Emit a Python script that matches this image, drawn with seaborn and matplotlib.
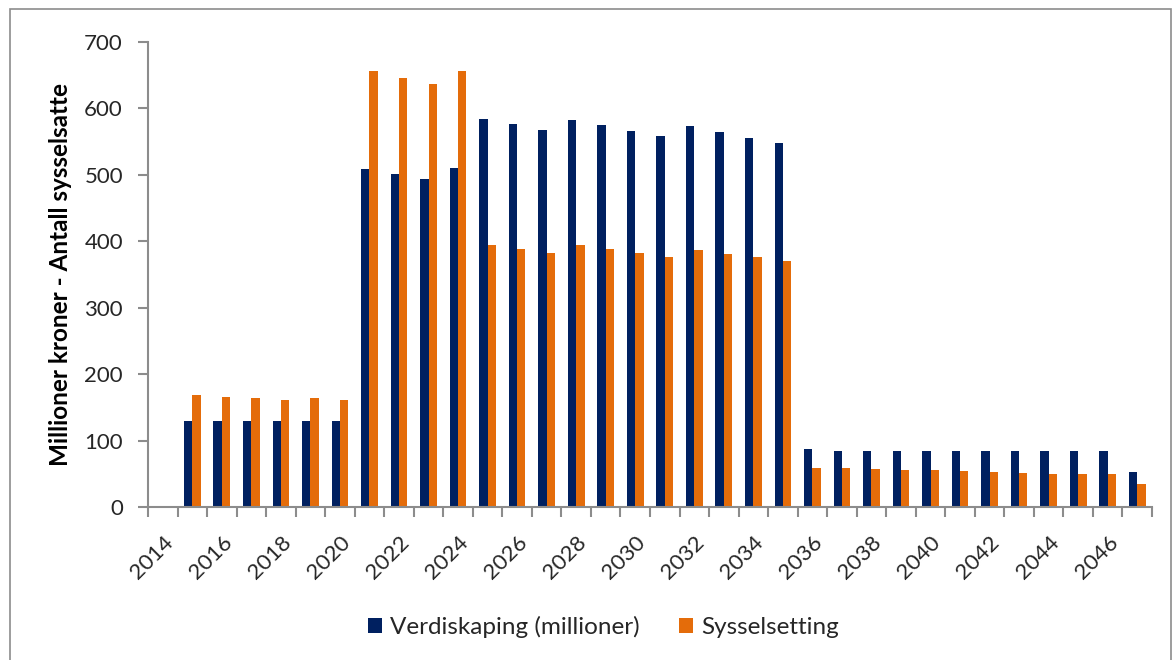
import numpy as np
import pandas as pd
import matplotlib
matplotlib.use("Agg")
import matplotlib.pyplot as plt
from matplotlib.patches import Rectangle
import seaborn as sns

years = list(range(2014, 2048))
verdiskaping = [2, 130, 130, 130, 130, 130, 130,
                509, 501, 494, 510,
                584, 576, 568, 583, 575, 566, 558, 573, 565, 556, 548,
                87, 85, 85, 85, 85, 85, 85, 85, 85, 85, 85,
                52]
sysselsetting = [2, 169, 166, 164, 161, 164, 161,
                 656, 646, 637, 656,
                 394, 388, 383, 394, 388, 382, 377, 387, 381, 376, 370,
                 58, 58, 57, 56, 55, 54, 53, 51, 50, 50, 49,
                 35]
series_names = ["Verdiskaping (millioner)", "Sysselsetting"]
colors = ["#002060", "#E46C0A"]
y_label = "Millioner kroner - Antall sysselsatte"

df = pd.DataFrame({
    "year": [str(y) for y in years] * 2,
    "value": verdiskaping + sysselsetting,
    "series": [series_names[0]] * len(years) + [series_names[1]] * len(years),
})

sns.set_theme(style="white")
plt.rcParams["font.family"] = ["Lato", "DejaVu Sans"]

fig = plt.figure(figsize=(11.74, 6.6), dpi=100)
ax = fig.add_axes([148 / 1174, 1 - 507 / 660, (1152 - 148) / 1174, (507 - 42) / 660])

sns.barplot(data=df, x="year", y="value", hue="series", palette=colors,
            width=0.565, saturation=1, ax=ax, linewidth=0)

n = len(years)
ax.set_xlim(-0.5, n - 0.5)
ax.set_ylim(0, 700)
ax.set_yticks(np.arange(0, 701, 100))
ax.tick_params(axis="y", labelsize=16, colors="#8c8c8c", length=7, width=1.5,
               pad=11, labelcolor="#262626", left=True)

ax.set_xticks(np.arange(0, n, 2))
ax.set_xticklabels([str(y) for y in years[::2]], rotation=45, ha="right",
                   rotation_mode="anchor", fontsize=16, color="#262626")
ax.tick_params(axis="x", which="major", length=0, pad=18)
ax.set_xticks(np.arange(-0.5, n, 1), minor=True)
ax.tick_params(axis="x", which="minor", length=7, width=1.5, color="#8c8c8c",
               bottom=True)

ax.set_xlabel("")
ax.set_ylabel(y_label, fontsize=17.5, fontweight="bold", color="#000000", labelpad=9)

for side in ["top", "right"]:
    ax.spines[side].set_visible(False)
for side in ["left", "bottom"]:
    ax.spines[side].set_color("#8c8c8c")
    ax.spines[side].set_linewidth(1.5)

handles, labels = ax.get_legend_handles_labels()
ax.legend_.remove()
fig.legend(handles, labels, loc="center", bbox_to_anchor=(0.514, 0.05), ncol=2,
           frameon=False, fontsize=17.5, handlelength=0.58, handleheight=0.58,
           handletextpad=0.33, columnspacing=1.6, labelcolor="#262626")

fig.patches.append(Rectangle((10 / 1174, -0.02), (1171 - 10) / 1174, 1.02 - 9 / 660,
                             transform=fig.transFigure, fill=False,
                             edgecolor="#8c8c8c", linewidth=1.2))

fig.savefig("out.png", dpi=100)
